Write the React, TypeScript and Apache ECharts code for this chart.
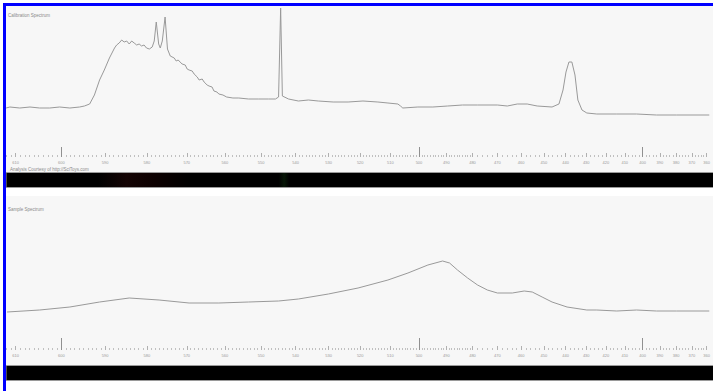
import React, { useEffect, useRef } from "react";
import * as echarts from "echarts";

// Calibration spectrum (wavelength in nm, intensity in counts)
const calNm = [
  612.0, 611.2, 609.1, 606.9, 604.8, 602.6, 600.4, 598.1, 595.9, 594.8, 593.6, 592.5,
  591.3, 590.2, 589.0, 587.8, 587.3, 586.7, 586.1, 585.5, 584.9, 584.3, 583.7, 583.1,
  582.5, 581.9, 581.3, 580.7, 580.1, 579.4, 578.7, 578.2, 577.7, 577.1, 576.7, 576.2,
  575.5, 574.9, 574.2, 573.2, 572.7, 572.2, 571.7, 571.2, 570.4, 569.9, 569.4, 568.6,
  568.1, 567.3, 566.8, 566.0, 565.5, 564.7, 564.2, 563.4, 562.9, 562.1, 561.6, 560.5,
  559.5, 557.8, 556.2, 553.5, 550.7, 547.9, 545.9, 545.0, 544.4, 543.9, 542.1, 539.2,
  536.2, 533.2, 528.6, 523.9, 519.1, 514.2, 510.8, 507.4, 506.5, 505.7, 500.4, 495.0,
  489.5, 483.9, 478.0, 470.0, 465.9, 461.7, 457.4, 453.0, 446.3, 443.1, 441.2, 439.8,
  438.4, 437.0, 435.5, 434.1, 432.1, 429.7, 424.7, 414.3, 403.5, 392.0, 379.9, 358.2,
];
const calCounts = [
  49, 50, 49, 50, 49, 49, 50, 49, 50, 51, 53, 62,
  77, 87, 99, 109, 112, 114, 117, 115, 116, 113, 116, 114,
  112, 113, 111, 112, 109, 108, 110, 116, 135, 113, 109, 116,
  140, 108, 101, 99, 96, 97, 95, 93, 92, 88, 87, 86,
  83, 80, 77, 78, 75, 72, 71, 70, 66, 65, 63, 62,
  60, 59, 59, 58, 58, 58, 58, 60, 149, 61, 58, 56,
  57, 56, 55, 55, 56, 55, 54, 53, 51, 49, 50, 50,
  51, 52, 52, 52, 51, 53, 53, 51, 50, 53, 67, 85,
  95, 95, 82, 57, 47, 44, 43, 43, 43, 42, 42, 42,
];

// Sample spectrum
const sampleNm = [
  611.8, 604.8, 598.1, 591.3, 584.3, 577.0, 569.4, 561.6, 553.5, 545.0, 539.2, 530.1,
  520.7, 510.8, 503.9, 496.8, 491.4, 488.8, 485.8, 481.9, 478.0, 474.1, 470.0, 463.8,
  458.7, 455.2, 450.8, 446.3, 439.3, 429.7, 424.7, 414.3, 403.5, 392.0, 379.9, 358.2,
];
const sampleCounts = [
  38, 40, 43, 48, 52, 50, 47, 47, 48, 49, 51, 56,
  62, 70, 77, 85, 89, 87, 80, 72, 65, 60, 57, 57,
  59, 58, 53, 48, 43, 40, 40, 39, 40, 39, 39, 39,
];

// Axis labels (nm)
const tickLabelsNm = [
  610, 600, 590, 580, 570, 560, 550, 540, 530, 520, 510, 500, 490,
  480, 470, 460, 450, 440, 430, 420, 410, 400, 390, 380, 370, 360,
];
const majorTickNm = [600, 500, 400];

const titles = ["Calibration Spectrum", "Sample Spectrum"];
const credit = "Analysis Courtesy of http://SciToys.com";

// Spectrometer dispersion: detector column for a given wavelength
const CAL_A = 1016;
const CAL_B = 547;
const CAL_K = 0.00469;
const CAL_REF = 480;
const COLS = 707;
const column = (nm: number) => CAL_A - CAL_B * Math.exp(CAL_K * (nm - CAL_REF));
const wavelength = (c: number) => CAL_REF + Math.log((CAL_A - c) / CAL_B) / CAL_K;

const minorTickNm: number[] = [];
for (let nm = 358; nm <= 612; nm += 1) {
  if (nm % 10 === 0) continue;
  if (nm < 480 && nm % 2 !== 0) continue;
  minorTickNm.push(nm);
}

export default function App() {
  const ref = useRef<HTMLDivElement>(null);
  useEffect(() => {
    if (!ref.current) return;
    const chart = echarts.init(ref.current, undefined, { renderer: "svg" });
    const labelCols = tickLabelsNm.map(column);
    const tickColor = "#b0b0b0";
    const font = "Liberation Sans";
    const mkAxes = (gridIndex: number, majorLen: number) => [
      {
        type: "value", gridIndex, min: 0, max: COLS, position: "bottom",
        axisLine: { show: false, onZero: false }, splitLine: { show: false },
        axisTick: { show: true, inside: true, length: 4, customValues: labelCols, lineStyle: { color: tickColor, width: 1 } },
        axisLabel: {
          show: true, customValues: labelCols, fontSize: 4, color: "#9a9a9a", margin: 3, fontFamily: font,
          formatter: (v: number) => String(Math.round(wavelength(v))),
        },
      },
      {
        type: "value", gridIndex, min: 0, max: COLS, position: "bottom",
        axisLine: { show: false, onZero: false }, splitLine: { show: false },
        axisTick: { show: true, inside: true, length: 2, customValues: minorTickNm.map(column), lineStyle: { color: "#c0c0c0", width: 1 } },
        axisLabel: { show: false },
      },
      {
        type: "value", gridIndex, min: 0, max: COLS, position: "bottom",
        axisLine: { show: false, onZero: false }, splitLine: { show: false },
        axisTick: { show: true, inside: true, length: majorLen, customValues: majorTickNm.map(column), lineStyle: { color: "#909090", width: 1 } },
        axisLabel: { show: false },
      },
    ];
    const yAx = (gridIndex: number) => ({ type: "value", gridIndex, min: 0, max: 150, show: false });
    const lineSeries = (idx: number, nm: number[], counts: number[]) => ({
      type: "line", xAxisIndex: idx * 3, yAxisIndex: idx, showSymbol: false, symbol: "none",
      data: nm.map((n, i) => [column(n), counts[i]]),
      lineStyle: { color: "#999999", width: 1 }, silent: true,
    });
    const text = (t: string, x: number, y: number) => ({
      type: "text", x, y, silent: true, z: 5,
      style: { text: t, fontSize: 4.5, fontFamily: font, fill: "#8a8a8a", verticalAlign: "middle", textVerticalAlign: "middle" },
    });
    const bar = (y: number, dark: boolean) => ({
      type: "rect", silent: true, z: 1,
      shape: { x: 6, y, width: 708, height: 15 },
      style: {
        stroke: "#9a9a9a", lineWidth: 1,
        fill: dark
          ? new echarts.graphic.LinearGradient(0, 0, 1, 0, [
              { offset: 0, color: "#000" },
              { offset: 0.13, color: "#000" },
              { offset: 0.17, color: "#140404" },
              { offset: 0.21, color: "#0c0000" },
              { offset: 0.26, color: "#000" },
              { offset: 0.385, color: "#000" },
              { offset: 0.393, color: "#061606" },
              { offset: 0.40, color: "#000" },
              { offset: 1, color: "#000" },
            ])
          : "#000",
      },
    });
    chart.setOption({
      animation: false,
      backgroundColor: "#ffffff",
      grid: [
        { left: 6, top: 7, width: COLS, height: 150 },
        { left: 6, top: 200, width: COLS, height: 150 },
      ],
      xAxis: [...mkAxes(0, 10), ...mkAxes(1, 12)],
      yAxis: [yAx(0), yAx(1)],
      series: [lineSeries(0, calNm, calCounts), lineSeries(1, sampleNm, sampleCounts)],
      graphic: {
        elements: [
          { type: "rect", silent: true, z: -10, shape: { x: 6, y: 6, width: 708, height: 166 }, style: { fill: "#f7f7f7" } },
          { type: "rect", silent: true, z: -10, shape: { x: 6, y: 196, width: 708, height: 169 }, style: { fill: "#f7f7f7" } },
          bar(172.5, true),
          bar(365.5, false),
          { type: "rect", silent: true, z: 6, shape: { x: 3, y: 3, width: 712, height: 3 }, style: { fill: "#0000ff" } },
          { type: "rect", silent: true, z: 6, shape: { x: 3, y: 3, width: 3, height: 392 }, style: { fill: "#0000ff" } },
          text(titles[0], 8, 15),
          text(credit, 10, 169),
          text(titles[1], 8, 209),
        ],
      },
    });
    return () => chart.dispose();
  }, []);
  return (
    <div style={{ position: "fixed", left: 0, top: 0, width: 713, height: 391 }}>
      <div ref={ref} style={{ width: 713, height: 391 }} />
    </div>
  );
}
